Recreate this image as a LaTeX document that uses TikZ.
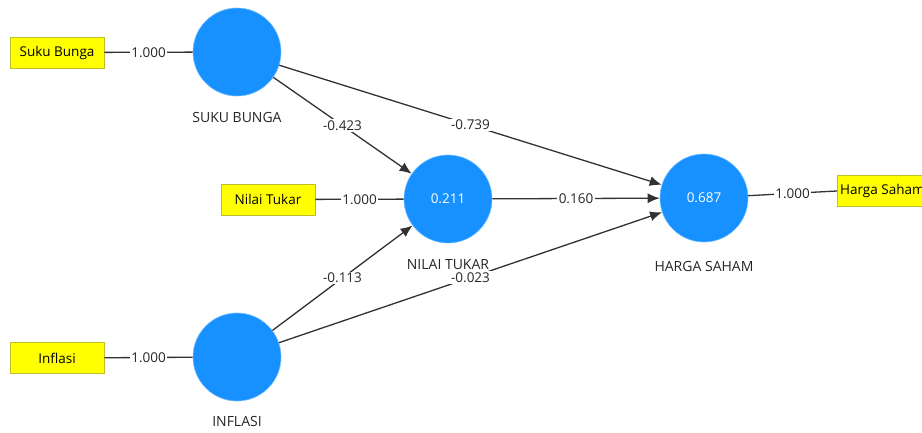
\documentclass[tikz,border=0pt]{standalone}
\usepackage{fontspec}
\setmainfont{Open Sans}
\usetikzlibrary{arrows.meta}
\definecolor{lvblue}{RGB}{22,145,255}
\definecolor{ind}{RGB}{255,255,0}
\definecolor{indb}{RGB}{190,190,40}
\definecolor{edge}{RGB}{50,50,50}
\tikzset{
  lv/.style={circle,fill=lvblue,draw=lvblue!60,line width=0.6pt,minimum size=88pt,inner sep=0pt,text=white,font=\fontsize{13.5}{15}\selectfont},
  mv/.style={rectangle,fill=ind,draw=indb,line width=0.8pt,minimum width=94pt,minimum height=31pt,inner sep=2pt,font=\fontsize{13.5}{15}\selectfont},
  lab/.style={font=\fontsize{14}{16}\selectfont,text=black!85},
  wt/.style={fill=white,inner sep=1.5pt,font=\fontsize{13.5}{15}\selectfont,text=black!85},
  link/.style={draw=edge,line width=1.3pt},
  path/.style={draw=edge,line width=1.3pt,-{Latex[length=12pt,width=10pt]}}
}
\begin{document}
\begin{tikzpicture}[x=1pt,y=-1pt]
\clip (0,0) rectangle (922,432);
\fill[white] (0,0) rectangle (922,432);
% latent variables
\node[lv] (SB) at (237,52) {};
\node[lv] (NT) at (448,199) {0.211};
\node[lv] (HS) at (704,198) {0.687};
\node[lv] (IN) at (237,357) {};
% labels
\node[lab] at (237,117) {SUKU BUNGA};
\node[lab] at (448,265) {NILAI TUKAR};
\node[lab] at (704,266) {HARGA SAHAM};
\node[lab] at (237,421) {INFLASI};
% indicators
\node[mv] (sb) at (57,52.5) {Suku Bunga};
\node[mv] (nt) at (268,199.5) {Nilai Tukar};
\node[mv,anchor=west,minimum width=100pt,align=left] (hs) at (837,191) {Harga Saham\hspace*{10pt}};
\node[mv] (in) at (57,358) {Inflasi};
% outer links
\draw[link] (sb) -- node[wt]{1.000} (SB);
\draw[link] (nt) -- node[wt]{1.000} (NT);
\draw[link] (in) -- node[wt]{1.000} (IN);
\draw[link] (HS) -- node[wt,pos=0.5]{1.000} (hs.west);
% structural paths
\draw[path] (SB) -- node[wt]{-0.423} (NT);
\draw[path] (SB) -- node[wt]{-0.739} (HS);
\draw[path] (NT) -- node[wt]{0.160} (HS);
\draw[path] (IN) -- node[wt]{-0.113} (NT);
\draw[path] (IN) -- node[wt]{-0.023} (HS);
\end{tikzpicture}
\end{document}
